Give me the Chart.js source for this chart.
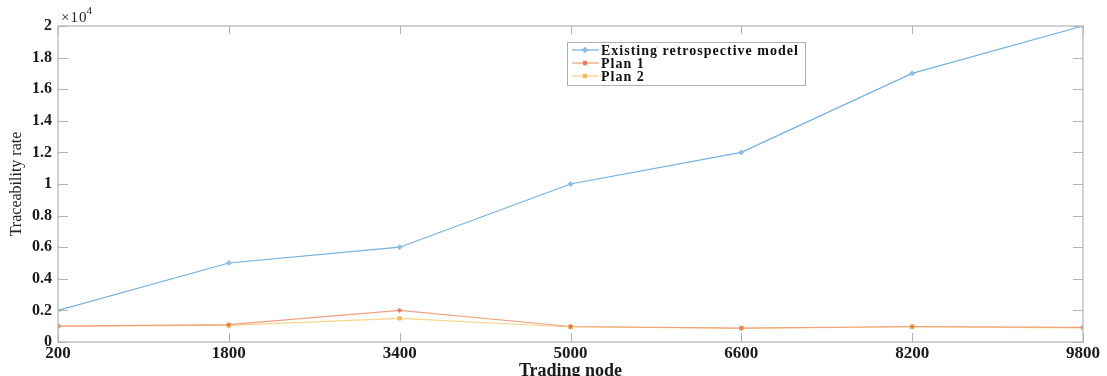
<!DOCTYPE html>
<html>
<head>
<meta charset="utf-8">
<script src="https://cdn.jsdelivr.net/npm/chart.js@4"></script>
<style>
  html, body { margin: 0; padding: 0; background: #fff; }
  #wrap { width: 1107px; height: 376px; }
</style>
</head>
<body>
<div id="wrap"><canvas id="traceChart"></canvas></div>
<script>
// Chart data
const tradingNodes = [200, 1800, 3400, 5000, 6600, 8200, 9800];
const existingModel = [2000, 5000, 6000, 10000, 12000, 17000, 20000];
const plan1 = [1000, 1100, 2000, 980, 880, 980, 920];
const plan2 = [1000, 1050, 1500, 950, 870, 950, 900];
const seriesNames = ["Existing retrospective model", "Plan 1", "Plan 2"];
const yMax = 20000;
const yStep = 2000;
const yExponent = 4;

const serif = "'Liberation Serif', 'DejaVu Serif', serif";
const axisGray = "#c2c2c2";

function toPoints(values) {
    return values.map((v, i) => ({ x: tradingNodes[i], y: v }));
}

// Box, inward ticks, exponent label and legend, MATLAB style
const matlabDecor = {
    id: "matlabDecor",
    afterDatasetsDraw(chart) {
        const { ctx, chartArea: a, scales } = chart;
        ctx.save();
        ctx.strokeStyle = axisGray;
        ctx.lineWidth = 1.5;
        ctx.strokeRect(a.left, a.top, a.right - a.left, a.bottom - a.top);

        ctx.strokeStyle = "#b4b4b4";
        ctx.lineWidth = 1;
        ctx.beginPath();
        scales.x.ticks.forEach(t => {
            const px = Math.round(scales.x.getPixelForValue(t.value)) + 0.5;
            ctx.moveTo(px, a.bottom); ctx.lineTo(px, a.bottom - 9);
            ctx.moveTo(px, a.top); ctx.lineTo(px, a.top + 8);
        });
        scales.y.ticks.forEach(t => {
            const py = Math.round(scales.y.getPixelForValue(t.value)) + 0.5;
            ctx.moveTo(a.left, py); ctx.lineTo(a.left + 10, py);
            ctx.moveTo(a.right, py); ctx.lineTo(a.right - 10, py);
        });
        ctx.stroke();

        // x10^4 exponent
        ctx.fillStyle = "#222";
        ctx.letterSpacing = "1px";
        ctx.textBaseline = "alphabetic";
        ctx.textAlign = "left";
        ctx.font = "15px " + serif;
        ctx.fillText("\u00d710", a.left + 3, a.top - 4);
        const w = ctx.measureText("\u00d710").width;
        ctx.font = "11px " + serif;
        ctx.fillText(String(yExponent), a.left + 2 + w, a.top - 12);

        // legend
        const lx = 567, ly = 42, lw = 238, lh = 43;
        ctx.fillStyle = "#fff";
        ctx.fillRect(lx, ly, lw, lh);
        ctx.strokeStyle = "#b0b0b0";
        ctx.lineWidth = 1;
        ctx.strokeRect(lx + 0.5, ly + 0.5, lw, lh);
        chart.data.datasets.forEach((ds, i) => {
            const y = ly + 8 + i * 13;
            ctx.strokeStyle = ds.borderColor;
            ctx.lineWidth = 1.2;
            ctx.beginPath();
            ctx.moveTo(lx + 5, y); ctx.lineTo(lx + 32, y);
            ctx.stroke();
            ctx.fillStyle = ds.pointBackgroundColor;
            ctx.strokeStyle = ds.pointBorderColor;
            Chart.helpers.drawPoint(ctx, {
                pointStyle: ds.pointStyle, radius: ds.pointRadius, borderWidth: 1
            }, lx + 18, y);
            ctx.fillStyle = "#111";
            ctx.font = "bold 14px " + serif;
            ctx.textBaseline = "middle";
            ctx.fillText(ds.label, lx + 34, y + 1);
        });
        ctx.letterSpacing = "0px";
        ctx.restore();
    }
};

function makeDataset(label, values, line, mark, style) {
    return {
        label,
        data: toPoints(values),
        borderColor: line,
        borderWidth: 1.2,
        pointStyle: style,
        pointRadius: 2.5,
        pointBorderWidth: 1,
        pointBackgroundColor: mark,
        pointBorderColor: mark,
        tension: 0
    };
}

new Chart(document.getElementById("traceChart"), {
    type: "line",
    data: {
        datasets: [
            makeDataset(seriesNames[0], existingModel, "#72b1e1", "#8cc0e8", "rectRot"),
            makeDataset(seriesNames[1], plan1, "#efa080", "#e8784a", "star"),
            makeDataset(seriesNames[2], plan2, "#f6d48a", "#f0c060", "rect")
        ]
    },
    options: {
        responsive: true,
        maintainAspectRatio: false,
        animation: false,
        layout: { padding: { top: 26, right: 24, bottom: 0, left: 0 } },
        plugins: { legend: { display: false }, tooltip: { enabled: false } },
        scales: {
            x: {
                type: "linear",
                min: tradingNodes[0],
                max: tradingNodes[tradingNodes.length - 1],
                afterBuildTicks: s => { s.ticks = tradingNodes.map(v => ({ value: v })); },
                afterFit: s => { s.height = 34; },
                grid: { display: false, drawTicks: false },
                border: { display: false },
                ticks: {
                    padding: 1,
                    color: "#1a1a1a",
                    font: { family: serif, size: 17, weight: "bold" },
                    maxRotation: 0,
                    callback: v => String(v)
                },
                title: {
                    display: true,
                    text: "Trading node",
                    color: "#1a1a1a",
                    font: { family: serif, size: 18, weight: "bold" },
                    padding: { top: 0, bottom: -6 }
                }
            },
            y: {
                min: 0,
                max: yMax,
                afterFit: s => { s.width = 58; },
                grid: { display: false, drawTicks: false },
                border: { display: false },
                ticks: {
                    stepSize: yStep,
                    padding: 6,
                    color: "#1a1a1a",
                    font: { family: serif, size: 16, weight: "bold" },
                    callback: v => String(Math.round(v / 1000) / 10)
                },
                title: {
                    display: true,
                    text: "Traceability rate",
                    color: "#222",
                    font: { family: serif, size: 16 },
                    padding: { top: 7, bottom: 0 }
                }
            }
        }
    },
    plugins: [matlabDecor]
});
</script>
</body>
</html>
